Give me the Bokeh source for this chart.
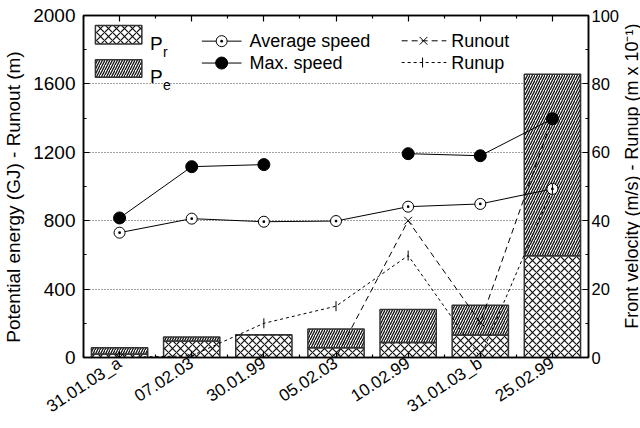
import numpy as np
from bokeh.plotting import figure
from bokeh.layouts import row
from bokeh.core.properties import value
from bokeh.models import (Range1d, LinearAxis, FixedTicker, SingleIntervalTicker,
                          Label, Grid, ColumnDataSource)
from bokeh.embed import file_html
from bokeh.resources import INLINE

# ---- data -------------------------------------------------------------
categories = ["31.01.03_a", "07.02.03", "30.01.99", "05.02.03",
              "10.02.99", "31.01.03_b", "25.02.99"]
energy_pr = [20, 97, 133, 57, 88, 131, 595]        # GJ
energy_pe = [37, 23, 0, 110, 193, 174, 1062]       # GJ
runout_m = [0, 0, 0, 0, 800, 205, 1400]            # m
avg_speed = [36.5, 40.6, 39.7, 39.9, 44.1, 44.9, 49.3]          # m/s
max_speed = [40.8, 55.8, 56.4, np.nan, 59.6, 59.0, 69.8]        # m/s
runup_dm = [0, 0.5, 10, 15, 29.8, 0, 49.3]         # m x 10^-1

FONT = "Liberation Sans"
NBSP = "\u00a0"
LEFT_TITLE = "Potential energy (GJ) - Runout (m)"
RIGHT_TITLE = "Front velocity (m/s) - Runup (m x 10\u207b\u00b9)"

xs = np.arange(len(categories), dtype=float)
pr = np.array(energy_pr, dtype=float)
total = pr + np.array(energy_pe, dtype=float)

src = ColumnDataSource(dict(x=xs, pr=pr, total=total, runout=runout_m,
                            avg=avg_speed, vmax=max_speed, runup=runup_dm))

p = figure(width=622, height=428, x_range=Range1d(-0.5, 6.5), y_range=Range1d(0, 2000),
           x_axis_type=None, y_axis_type=None, output_backend="svg",
           toolbar_location=None, min_border_left=83, min_border_right=31,
           min_border_top=15, min_border_bottom=71)
p.extra_y_ranges = {"right": Range1d(0, 100)}
p.outline_line_color = "black"
p.outline_line_width = 1.5
p.background_fill_color = "white"
p.border_fill_color = "white"

cat_ticker = FixedTicker(ticks=list(xs), minor_ticks=list(np.arange(-0.5, 7.0, 1.0)))
left_ticker = SingleIntervalTicker(interval=400, num_minor_ticks=2)
right_ticker = SingleIntervalTicker(interval=20, num_minor_ticks=2)


def style_axis(ax, size="19px"):
    ax.axis_line_color = "black"
    ax.axis_line_width = 1.5
    ax.major_tick_in = 6
    ax.major_tick_out = 0
    ax.minor_tick_in = 3
    ax.minor_tick_out = 0
    ax.major_tick_line_width = 1.2
    ax.minor_tick_line_width = 1.2
    ax.major_label_text_font = FONT
    ax.major_label_text_font_size = size
    ax.major_label_text_color = "black"
    ax.axis_label_text_font = FONT
    ax.axis_label_text_font_size = "19px"
    ax.axis_label_text_font_style = "normal"
    ax.axis_label_text_color = "black"


left = LinearAxis(ticker=left_ticker, axis_label=LEFT_TITLE + NBSP * 4)
style_axis(left)
left.major_label_standoff = 8
left.axis_label_standoff = 6
p.add_layout(left, "left")

right = LinearAxis(y_range_name="right", ticker=right_ticker)
style_axis(right, "16.5px")
right.major_label_standoff = 3
p.add_layout(right, "right")

bottom = LinearAxis(ticker=cat_ticker,
                    major_label_overrides={float(i): c for i, c in enumerate(categories)})
style_axis(bottom, "17px")
bottom.major_label_orientation = 0.58
bottom.major_label_standoff = 4
p.add_layout(bottom, "below")

top = LinearAxis(ticker=cat_ticker)
style_axis(top, "0px")
top.major_label_standoff = 0
p.add_layout(top, "above")

p.add_layout(Grid(dimension=1, ticker=left_ticker, grid_line_color="#444444",
                  grid_line_dash="1 2", grid_line_width=1))

# ---- stacked energy bars --------------------------------------------
BAR_W = 0.78
p.vbar(x="x", width=BAR_W, bottom=0, top="pr", source=src, fill_color="white",
       line_color="#333333", line_width=1.5, hatch_pattern="diagonal_cross",
       hatch_scale=8, hatch_weight=1.2, hatch_color="#111111")
p.vbar(x="x", width=BAR_W, bottom="pr", top="total", source=src, fill_color="white",
       line_color="#333333", line_width=1.5, hatch_pattern="right_diagonal_line",
       hatch_scale=5, hatch_weight=1.3, hatch_color="#111111")

# ---- runout / runup ---------------------------------------------------
p.line("x", "runout", source=src, line_color="black", line_width=1, line_dash="6 4")
p.scatter("x", "runout", source=src, marker="x", size=11, line_color="black", line_width=1)
p.line("x", "runup", source=src, y_range_name="right", line_color="black",
       line_width=1, line_dash="3 3")

# ---- front velocities -------------------------------------------------
p.line("x", "avg", source=src, y_range_name="right", line_color="black", line_width=1)
p.scatter("x", "avg", source=src, y_range_name="right", marker="circle_dot", size=11,
          fill_color="white", line_color="black", line_width=1)
p.line("x", "vmax", source=src, y_range_name="right", line_color="black", line_width=1)
p.scatter("x", "vmax", source=src, y_range_name="right", marker="circle", size=12,
          fill_color="black", line_color="black")
p.scatter("x", "runup", source=src, y_range_name="right", marker="dash", angle=np.pi / 2,
          size=10, line_color="black", line_width=1)

# ---- legend -----------------------------------------------------------
p.quad(left=[-0.335], right=[0.309], bottom=[1834], top=[1941], fill_color="white",
       line_color="#333333", line_width=1.5, hatch_pattern="diagonal_cross",
       hatch_scale=8, hatch_weight=1.2, hatch_color="#111111")
p.quad(left=[-0.335], right=[0.309], bottom=[1639], top=[1741], fill_color="white",
       line_color="#333333", line_width=1.5, hatch_pattern="right_diagonal_line",
       hatch_scale=5, hatch_weight=1.3, hatch_color="#111111")


def add_text(x, y, txt, size="18px", baseline="alphabetic"):
    p.add_layout(Label(x=x, y=y, text=txt, text_font=FONT, text_font_size=size,
                       text_baseline=baseline, text_align="left", text_color="black"))


add_text(0.423, 1839, "P", "19px")
add_text(0.602, 1789, "r", "14px")
add_text(0.423, 1643, "P", "19px")
add_text(0.602, 1591, "e", "14px")

# speed keys
p.line([1.140, 1.691], [1850, 1850], line_color="black", line_width=1)
p.scatter([1.415], [1850], marker="circle_dot", size=11, fill_color="white",
          line_color="black", line_width=1)
p.line([1.140, 1.691], [1722, 1722], line_color="black", line_width=1)
p.scatter([1.415], [1722], marker="circle", size=12, fill_color="black", line_color="black")
add_text(1.801, 1850, "Average speed", "18px", "middle")
add_text(1.801, 1722, "Max. speed", "18px", "middle")

# runout / runup keys
p.line([3.910, 4.530], [1852, 1852], line_color="black", line_width=1, line_dash="6 4")
p.scatter([4.213], [1852], marker="x", size=11, line_color="black", line_width=1)
p.line([3.910, 4.530], [1725, 1725], line_color="black", line_width=1, line_dash="3 3")
p.scatter([4.200], [1725], marker="dash", angle=np.pi / 2, size=10, line_color="black")
add_text(4.598, 1852, "Runout", "18px", "middle")
add_text(4.598, 1725, "Runup", "18px", "middle")

# ---- right-hand title strip (reads bottom to top) -----------------------
side = figure(width=18, height=428, x_range=Range1d(0, 18), y_range=Range1d(0, 428),
              x_axis_type=None, y_axis_type=None, output_backend="svg",
              toolbar_location=None, min_border_left=0, min_border_right=0,
              min_border_top=0, min_border_bottom=0)
side.outline_line_color = None
side.background_fill_color = "white"
side.border_fill_color = "white"
side.text(x=[9.5], y=[227], text=[RIGHT_TITLE], angle=np.pi / 2, text_align="center",
          text_baseline="middle", text_font=value(FONT), text_font_size="18px",
          text_color="black")

layout = row(p, side, spacing=0)
open("out.html", "w").write(file_html(layout, INLINE))
